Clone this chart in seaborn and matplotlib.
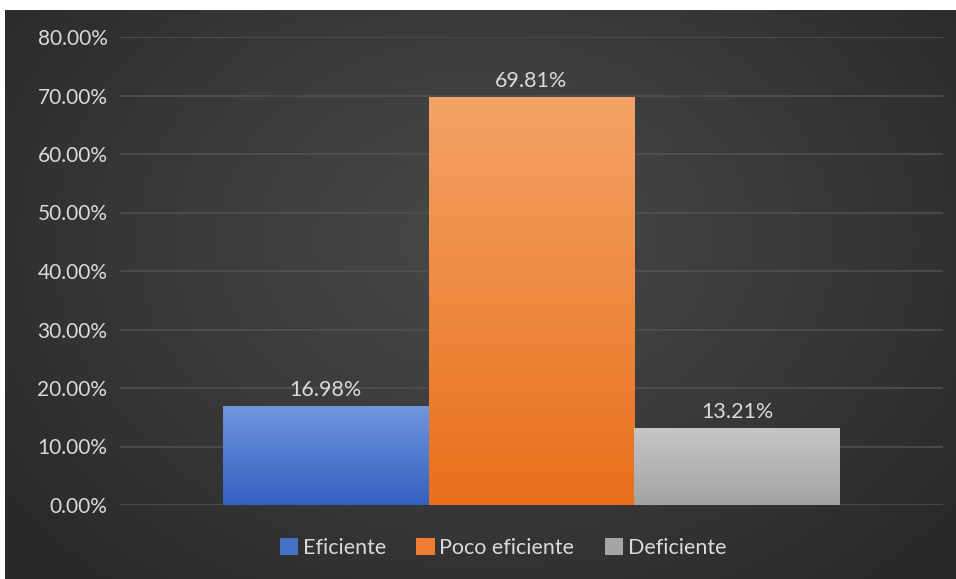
import numpy as np
import pandas as pd
import matplotlib
matplotlib.use("Agg")
import matplotlib.pyplot as plt
from matplotlib.colors import LinearSegmentedColormap
from matplotlib.patches import Rectangle
import seaborn as sns

# Data
niveles = ["Eficiente", "Poco eficiente", "Deficiente"]
porcentajes = [0.1698, 0.6981, 0.1321]
y_ticks = [0.0, 0.1, 0.2, 0.3, 0.4, 0.5, 0.6, 0.7, 0.8]

# Bar colour ramps (top, bottom)
ramps = {
    "Eficiente": ("#6e97de", "#3460c0"),
    "Poco eficiente": ("#f4a366", "#e86f1b"),
    "Deficiente": ("#c6c6c6", "#a3a3a3"),
}
solid = {"Eficiente": "#4472c4", "Poco eficiente": "#ed7d31", "Deficiente": "#a5a5a5"}
text_color = "#dadada"

sns.set_theme(style="dark")
plt.rcParams["font.family"] = ["Lato", "DejaVu Sans"]

W, H = 956, 579
fig = plt.figure(figsize=(W / 100, H / 100), dpi=100, facecolor="white")

# Dark radial-gradient backdrop
bg = fig.add_axes([5 / W, 0, 951 / W, 569 / H])
bg.set_axis_off()
yy, xx = np.mgrid[0:569, 0:951]
cx, cy = 480, 230
d = np.sqrt(((xx - cx) / 620.0) ** 2 + ((yy - cy) / 470.0) ** 2)
d = np.clip(d, 0, 1)
bg_cmap = LinearSegmentedColormap.from_list("bg", ["#494949", "#3a3a3a", "#282828"])
bg.imshow(d, cmap=bg_cmap, aspect="auto", interpolation="bilinear", vmin=0, vmax=1)

# Plot area
ax = fig.add_axes([120 / W, (H - 505) / H, 823 / W, 468 / H])
ax.set_facecolor("none")

df = pd.DataFrame({"grupo": [""] * len(niveles), "Nivel": niveles, "Porcentaje": porcentajes})
sns.barplot(data=df, x="grupo", y="Porcentaje", hue="Nivel", hue_order=niveles,
            palette=solid, width=0.75, ax=ax, legend=False, saturation=1,
            edgecolor="none", zorder=3)

ax.set_xlim(-0.5, 0.5)
ax.set_ylim(0, 0.8)
ax.set_yticks(y_ticks)
ax.set_yticklabels([f"{v * 100:.2f}%" for v in y_ticks])
ax.set_xticks([])
ax.set_xlabel("")
ax.set_ylabel("")
ax.tick_params(axis="y", length=0, pad=9, labelsize=15, labelcolor=text_color)
for s in ax.spines.values():
    s.set_visible(False)
ax.grid(False)
for v in y_ticks:
    ax.axhline(v, color="#525252", lw=1.1, zorder=1)

# Vertical gradient fill inside each bar
grad = np.linspace(0, 1, 256).reshape(-1, 1)
for patch, name in zip(ax.patches, niveles):
    x0, y0 = patch.get_x(), patch.get_y()
    w, h = patch.get_width(), patch.get_height()
    cmap = LinearSegmentedColormap.from_list(name, [ramps[name][0], ramps[name][1]])
    im = ax.imshow(grad, cmap=cmap, aspect="auto", extent=[x0, x0 + w, y0, y0 + h],
                   origin="upper", zorder=4, interpolation="bilinear")
    im.set_clip_path(patch)

ax.set_xlim(-0.5, 0.5)
ax.set_ylim(0, 0.8)

for cont in ax.containers:
    ax.bar_label(cont, labels=[f"{v * 100:.2f}%" for v in cont.datavalues],
                 padding=4, color=text_color, fontsize=15.5, zorder=6)

handles = [Rectangle((0, 0), 1, 1, facecolor=solid[n], edgecolor="none") for n in niveles]
leg = fig.legend(handles, niveles, loc="center", bbox_to_anchor=(503 / W, 1 - 548 / H),
                 ncol=3, frameon=False, fontsize=15.5, handlelength=0.85, handleheight=0.85,
                 handletextpad=0.22, columnspacing=1.4)
for t in leg.get_texts():
    t.set_color(text_color)

fig.savefig("out.png", dpi=100, facecolor=fig.get_facecolor())
